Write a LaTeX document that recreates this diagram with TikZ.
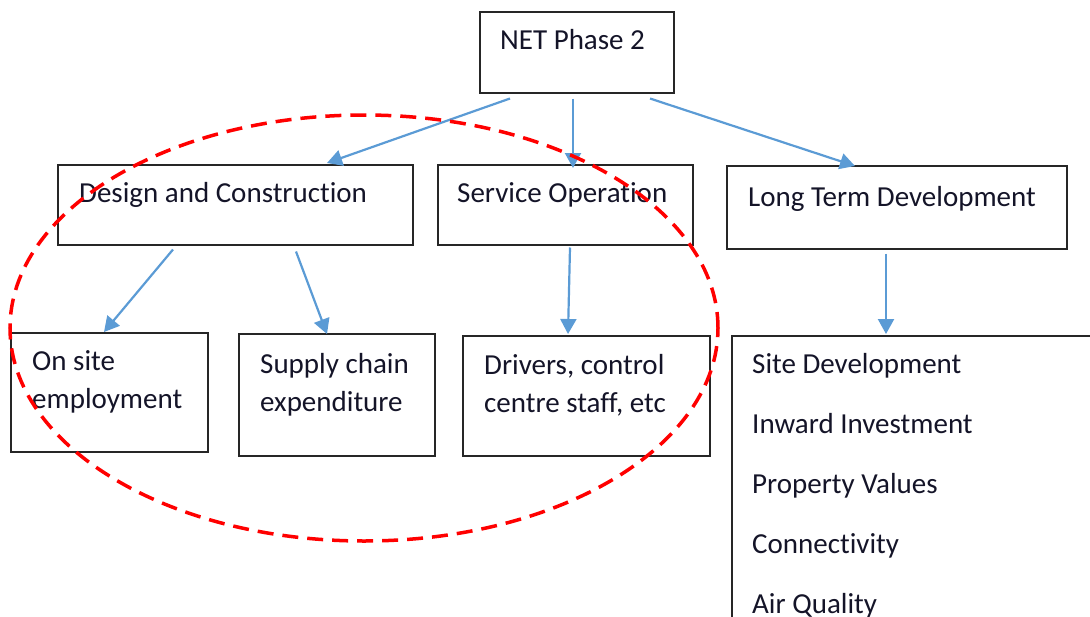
\documentclass[tikz,border=0pt]{standalone}
\usepackage{fontspec}
\setmainfont{Carlito}[Ligatures=NoCommon]
\usetikzlibrary{arrows.meta,calc,shapes.geometric}
\definecolor{arrowblue}{RGB}{91,155,213}
\definecolor{txtcol}{RGB}{20,20,40}
\begin{document}
\begin{tikzpicture}[x=1pt,y=-1pt,
  box/.style={draw=black!85,line width=1.5pt,inner sep=0pt,anchor=north west},
  txt/.style={anchor=base west,inner sep=0pt,text=txtcol,font=\fontsize{29}{38}\selectfont,align=left},
  lst/.style={anchor=base west,inner sep=0pt,text=txtcol,font=\fontsize{29}{60}\selectfont,align=left},
  conn/.style={draw=arrowblue,line width=2.2pt,-{Triangle[width=16pt,length=15pt]}},
  ring/.style={draw=red,line width=3.5pt,dash pattern=on 16pt off 9pt}]
\useasboundingbox (0,0) rectangle (1090,616);
\clip (0,0) rectangle (1090,616);
% boxes
\node[box,minimum width=194pt,minimum height=81pt] (net) at (479,11) {};
\node[box,minimum width=355pt,minimum height=80pt] (dc) at (57,164) {};
\node[box,minimum width=255pt,minimum height=80pt] (so) at (437,164) {};
\node[box,minimum width=340pt,minimum height=83pt] (lt) at (726,165) {};
\node[box,minimum width=197pt,minimum height=119pt] (os) at (10,332) {};
\node[box,minimum width=196pt,minimum height=122pt] (sc) at (238,333) {};
\node[box,minimum width=247pt,minimum height=120pt] (dr) at (462,335) {};
\node[box,minimum width=400pt,minimum height=320pt] (ls) at (731,335) {};
% texts
\node[txt] (tnet) at (500,49) {NET Phase 2};
\node[txt] (tdc) at (79,202) {Design and Construction};
\node[txt] (tso) at (457,202) {Service Operation};
\node[txt] (tlt) at (748,206) {Long Term Development};
\node[txt] (tos) at (32,408) {On site\\employment};
\node[txt] (tsc) at (260,411) {Supply chain\\expenditure};
\node[txt] (tdr) at (484,412) {Drivers, control\\centre staff, etc};
\node[lst] (tls) at (752,613) {Site Development\\Inward Investment\\Property Values\\Connectivity\\Air Quality};
% connectors
\draw[conn] ($(net.south west)+(31,5)$) -- ($(dc.north west)+(270,-1)$);
\draw[conn] ($(net.south west)+(94,5)$) -- ($(so.north west)+(136,4)$);
\draw[conn] ($(net.south west)+(171,5)$) -- ($(lt.north west)+(129,1)$);
\draw[conn] ($(dc.south west)+(116,4)$) -- ($(os.north west)+(94,0)$);
\draw[conn] ($(dc.south west)+(239,6)$) -- ($(sc.north west)+(89,1)$);
\draw[conn] ($(so.south west)+(133,2)$) -- ($(dr.north west)+(106,-1)$);
\draw[conn] ($(lt.south west)+(160,4)$) -- ($(ls.north west)+(155,-1)$);
% highlight ring
\node[ring,ellipse,minimum width=708pt,minimum height=426pt,inner sep=0pt] (ring) at (364,328) {};
\end{tikzpicture}
\end{document}
